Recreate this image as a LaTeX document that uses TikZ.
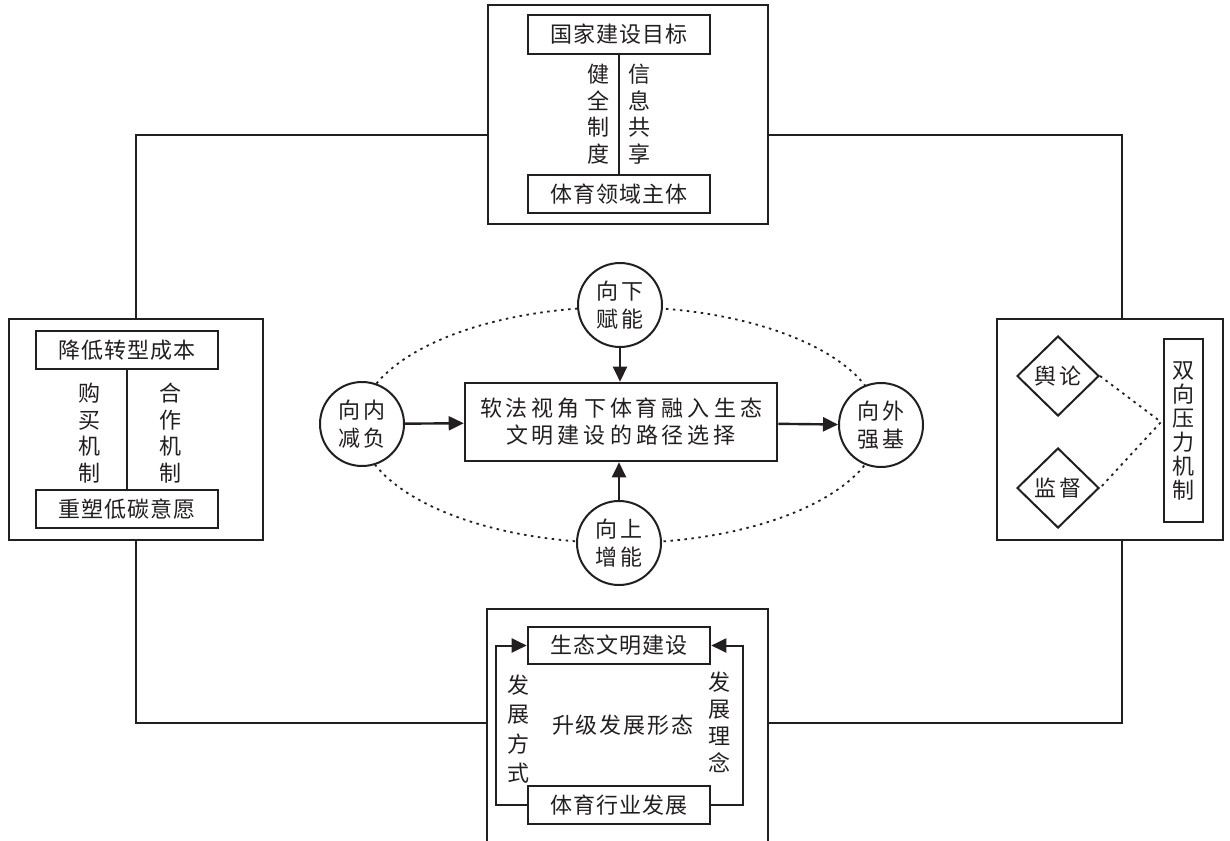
\documentclass[tikz,border=0pt]{standalone}
\usepackage{fontspec}
\newfontfamily\cjk{Noto Sans CJK SC}
\usetikzlibrary{shapes.geometric,arrows.meta,calc}
\definecolor{ink}{RGB}{35,31,32}
\makeatletter
\newcommand\trk[2]{\def\trk@sp{#1}\trk@a#2\relax}
\def\trk@a#1{#1\trk@b}
\def\trk@b#1{\ifx#1\relax\else\kern\trk@sp#1\expandafter\trk@b\fi}
\makeatother
\begin{document}
\begin{tikzpicture}[x=1pt,y=-1pt,
  every node/.style={font=\cjk\fontsize{22}{27}\selectfont, text=ink, inner sep=0pt},
  outer/.style={draw=ink,line width=2.2pt,rectangle},
  inbox/.style={draw=ink,line width=2.6pt,rectangle,fill=white},
  conn/.style={draw=ink,line width=1.8pt},
  vtext/.style={align=center},
  circ/.style={circle,draw=ink,line width=2pt,fill=white,minimum size=84pt,align=center,font=\cjk\fontsize{22}{28}\selectfont},
  dia/.style={diamond,draw=ink,line width=2pt,minimum width=82pt,minimum height=80pt,fill=white},
  arr/.style={draw=ink,line width=2.4pt,-{Triangle[length=15pt,width=14pt]}},
  loop/.style={draw=ink,line width=2pt,-{Triangle[length=15pt,width=14pt]}},
  dots/.style={draw=ink,line width=1.8pt,dash pattern=on 2.5pt off 4.5pt},
]
\useasboundingbox (0,0) rectangle (1230,840);
\fill[white] (0,0) rectangle (1230,840);

% ---------- top box
\node[outer,minimum width=280pt,minimum height=219pt] (topO) at (628,114.5) {};
\node[inbox,minimum width=182pt,minimum height=39pt] (topA) at (619,34.5) {\trk{1pt}{国家建设目标}};
\node[inbox,minimum width=182pt,minimum height=38pt] (topB) at (619,194) {\trk{1pt}{体育领域主体}};
\draw[conn,line width=2.4pt] (topA.south) -- (topB.north);
\node[vtext,font=\cjk\fontsize{22}{26.5}\selectfont] (t1) at (598,114) {健\\全\\制\\度};
\node[vtext,font=\cjk\fontsize{22}{26.5}\selectfont] (t2) at (639,114) {信\\息\\共\\享};

% ---------- left box
\node[outer,minimum width=254pt,minimum height=221pt] (leftO) at (136,429.5) {};
\node[inbox,minimum width=182pt,minimum height=38pt] (leftA) at (127,350) {\trk{1pt}{降低转型成本}};
\node[inbox,minimum width=182pt,minimum height=38pt] (leftB) at (127,509) {\trk{1pt}{重塑低碳意愿}};
\draw[conn,line width=2.4pt] (leftA.south) -- (leftB.north);
\node[vtext,font=\cjk\fontsize{22}{26.7}\selectfont] (l1) at (89,433) {购\\买\\机\\制};
\node[vtext,font=\cjk\fontsize{22}{26.7}\selectfont] (l2) at (170,433) {合\\作\\机\\制};

% ---------- right box
\node[outer,minimum width=226pt,minimum height=221pt] (rightO) at (1110,429.5) {};
\node[inbox,minimum width=39pt,minimum height=183pt,align=center,font=\cjk\fontsize{22}{24}\selectfont] (rightR) at (1183.5,430.5) {双\\向\\压\\力\\机\\制};
\node[dia] (yl) at (1058,376) {\trk{3pt}{舆论}};
\node[dia] (jd) at (1058,488) {\trk{3pt}{监督}};
\coordinate (meet) at (1161,422);
\draw[dots] (yl.east) -- (meet) -- (jd.east);

% ---------- bottom box
\node[outer,minimum width=281pt,minimum height=241pt] (botO) at (627.5,729.5) {};
\node[inbox,minimum width=182pt,minimum height=37pt] (botA) at (619,645.5) {\trk{1pt}{生态文明建设}};
\node[inbox,minimum width=182pt,minimum height=38pt] (botB) at (619,805) {\trk{1pt}{体育行业发展}};
\draw[loop] (botB.west) -- ++(-31,0) |- (botA.west);
\draw[loop] (botB.east) -- ++(32,0) |- (botA.east);
\node[vtext,font=\cjk\fontsize{22}{29.5}\selectfont] (b1) at (518,729) {发\\展\\方\\式};
\node[vtext,font=\cjk\fontsize{22}{27}\selectfont] (b2) at (719,722) {发\\展\\理\\念};
\node (b3) at (623,725) {\trk{2pt}{升级发展形态}};

% ---------- frame connectors
\draw[conn] (leftO.north) |- ($(topO.west)+(0,20.5)$);
\draw[conn] ($(rightO.north)+(12,0)$) |- ($(topO.east)+(0,20.5)$);
\draw[conn] (leftO.south) |- ($(botO.west)+(0,-6.5)$);
\draw[conn] ($(rightO.south)+(12,0)$) |- ($(botO.east)+(0,-6.5)$);

% ---------- centre
\draw[dots] (620,425) ellipse [x radius=260pt, y radius=118pt];
\node[inbox,minimum width=312pt,minimum height=78pt,align=center,font=\cjk\fontsize{22}{27}\selectfont] (main) at (621,422) {\trk{4pt}{软法视角下体育融入生态}\\\trk{4pt}{文明建设的路径选择}};
\node[circ] (cL) at (362,424) {\trk{3pt}{向内}\\\trk{3pt}{减负}};
\node[circ] (cT) at (620,305) {\trk{3pt}{向下}\\\trk{3pt}{赋能}};
\node[circ] (cB) at (619,543) {\trk{3pt}{向上}\\\trk{3pt}{增能}};
\node[circ] (cR) at (881,425) {\trk{3pt}{向外}\\\trk{3pt}{强基}};
\draw[arr] (cL) -- (main);
\draw[arr] (main) -- (cR);
\draw[arr] (cT.south) -- (cT.south |- main.north);
\draw[arr] (cB.north) -- (cB.north |- main.south);
\end{tikzpicture}
\end{document}
